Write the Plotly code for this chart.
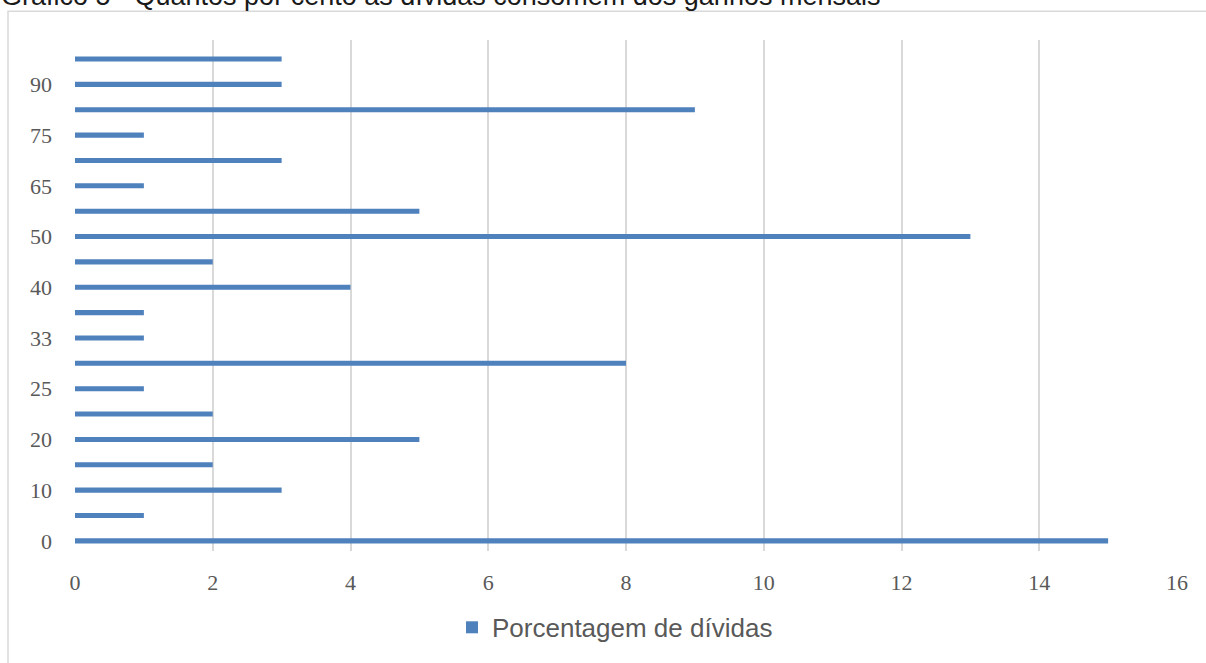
import plotly.graph_objects as go

# Percentage of monthly income consumed by debts (category) and share of respondents
categories = ["0", "5", "10", "15", "20", "22", "25", "30", "33", "35",
              "40", "45", "50", "60", "65", "70", "75", "80", "90", "100"]
values = [15, 1, 3, 2, 5, 2, 1, 8, 1, 1,
          4, 2, 13, 5, 1, 3, 1, 9, 3, 3]
shown_labels = categories[::2]
x_ticks = [0, 2, 4, 6, 8, 10, 12, 14, 16]

series_name = "Porcentagem de dívidas"
title_text = "Gráfico 5 - Quantos por cento as dívidas consomem dos ganhos mensais"

W, H = 1206, 663
L, R, T, B = 75, 29, 40, 108
pw, ph = W - L - R, H - T - B


def px_x(p):
    return (p - L) / pw


def px_y(p):
    return (H - B - p) / ph


fig = go.Figure()
fig.add_trace(go.Bar(
    x=values,
    y=categories,
    orientation="h",
    name=series_name,
    marker=dict(color="#4f81bd", line=dict(width=0)),
    showlegend=True,
))

fig.update_layout(
    width=W,
    height=H,
    margin=dict(l=L, r=R, t=T, b=B),
    paper_bgcolor="white",
    plot_bgcolor="white",
    bargap=0.8,
    showlegend=True,
    legend=dict(
        orientation="h",
        x=px_x(452),
        xanchor="left",
        y=px_y(632),
        yanchor="middle",
        font=dict(family="Liberation Sans, Arial, sans-serif", size=26, color="#595959"),
        bgcolor="rgba(0,0,0,0)",
    ),
    xaxis=dict(
        range=[0, 16],
        tickvals=x_ticks,
        showgrid=True,
        gridcolor="#d9d9d9",
        gridwidth=1.5,
        zeroline=False,
        showline=False,
        ticks="",
        ticklabelstandoff=16,
        tickfont=dict(family="Liberation Serif, Cambria, serif", size=22, color="#595959"),
    ),
    yaxis=dict(
        type="category",
        categoryorder="array",
        categoryarray=categories,
        range=[-0.4, 19.75],
        tickvals=shown_labels,
        ticktext=shown_labels,
        showgrid=False,
        zeroline=False,
        showline=False,
        ticks="",
        ticklabelstandoff=22,
        tickfont=dict(family="Liberation Serif, Cambria, serif", size=22, color="#595959"),
    ),
)

# Chart frame
fig.add_shape(
    type="rect", xref="paper", yref="paper",
    x0=px_x(8), x1=px_x(W + 10), y0=px_y(H + 10), y1=px_y(11),
    line=dict(color="#d9d9d9", width=1.5), fillcolor="rgba(0,0,0,0)", layer="below",
)

# Figure caption above the frame
fig.add_annotation(
    text=title_text,
    xref="paper", yref="paper",
    x=px_x(-1), xanchor="left",
    y=px_y(-4), yanchor="middle",
    showarrow=False,
    font=dict(family="Liberation Sans, Arial, sans-serif", size=27, color="#1a1a1a"),
)

fig.write_html("out.html")
